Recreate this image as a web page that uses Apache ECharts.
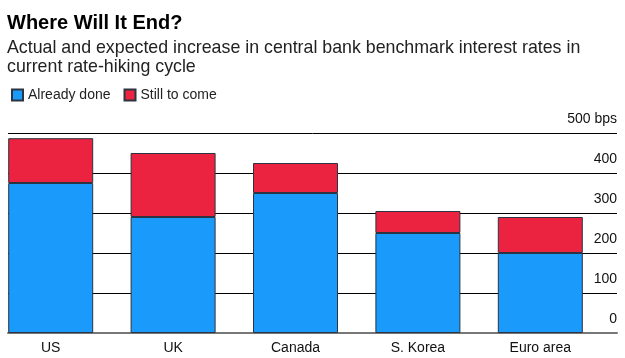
<!DOCTYPE html>
<html>
<head>
<meta charset="utf-8">
<script src="https://cdn.jsdelivr.net/npm/echarts@6/dist/echarts.min.js"></script>
<style>
html,body{margin:0;padding:0;background:#fff;}
#c{width:625px;height:358px;}
</style>
</head>
<body>
<div id="c"></div>
<script>
const categories = ['US', 'UK', 'Canada', 'S. Korea', 'Euro area'];
const alreadyDone = [375, 290, 350, 250, 200];
const stillToCome = [112, 160, 75, 55, 90];
const yTicks = [0, 100, 200, 300, 400, 500];

const FONT = '"Liberation Sans", Arial, sans-serif';
const chart = echarts.init(document.getElementById('c'), null, {renderer: 'canvas'});
const plotTop = 133, plotH = 200;

chart.setOption({
  backgroundColor: '#fff',
  animation: false,
  textStyle: {fontFamily: FONT},
  title: [
    {text: 'Where Will It End?', left: 2, top: 8,
     textStyle: {fontSize: 20, fontWeight: 'bold', color: '#000', fontFamily: FONT}},
    {text: 'Actual and expected increase in central bank benchmark interest rates in\ncurrent rate-hiking cycle',
     left: 2, top: 33,
     textStyle: {fontSize: 17.8, fontWeight: 'normal', color: '#222', lineHeight: 19.5, fontFamily: FONT}}
  ],
  legend: {
    left: 6, top: 83, itemWidth: 11, itemHeight: 11, itemGap: 13, icon: 'rect',
    textStyle: {fontSize: 14, color: '#222'},
    data: ['Already done', 'Still to come']
  },
  grid: [
    {left: 8, right: 8, top: plotTop, height: plotH, outerBoundsMode: 'none'},
    {left: -10.5, width: 612, top: plotTop, height: plotH, outerBoundsMode: 'none'}
  ],
  xAxis: [
    {gridIndex: 0, type: 'category', data: categories, show: true,
     axisLine: {show: true, lineStyle: {color: '#777', width: 2}},
     axisTick: {show: false}, axisLabel: {show: false}, splitLine: {show: false}},
    {gridIndex: 1, type: 'category', data: categories,
     axisLine: {show: false}, axisTick: {show: false},
     axisLabel: {fontSize: 14, color: '#111', margin: 8}}
  ],
  yAxis: [
    {gridIndex: 0, type: 'value', min: yTicks[0], max: yTicks[yTicks.length - 1], interval: 100,
     position: 'right',
     axisLine: {show: false}, axisTick: {show: false},
     splitLine: {show: true, lineStyle: {color: '#000', width: 1}},
     axisLabel: {inside: true, margin: 0, fontSize: 14, color: '#111',
       verticalAlign: 'bottom', padding: [0, 0, 7, 0],
       formatter: v => v === 500 ? '500 bps' : String(v)}},
    {gridIndex: 1, type: 'value', min: 0, max: 500, interval: 100, show: false}
  ],
  series: [
    {name: 'Already done', type: 'bar', stack: 'a', xAxisIndex: 1, yAxisIndex: 1,
     data: alreadyDone, barWidth: 85,
     itemStyle: {color: '#1a9bfc', borderColor: '#2b3440', borderWidth: 1}},
    {name: 'Still to come', type: 'bar', stack: 'a', xAxisIndex: 1, yAxisIndex: 1,
     data: stillToCome, barWidth: 85,
     itemStyle: {color: '#ec2340', borderColor: '#2b3440', borderWidth: 1}}
  ]
});
</script>
</body>
</html>
